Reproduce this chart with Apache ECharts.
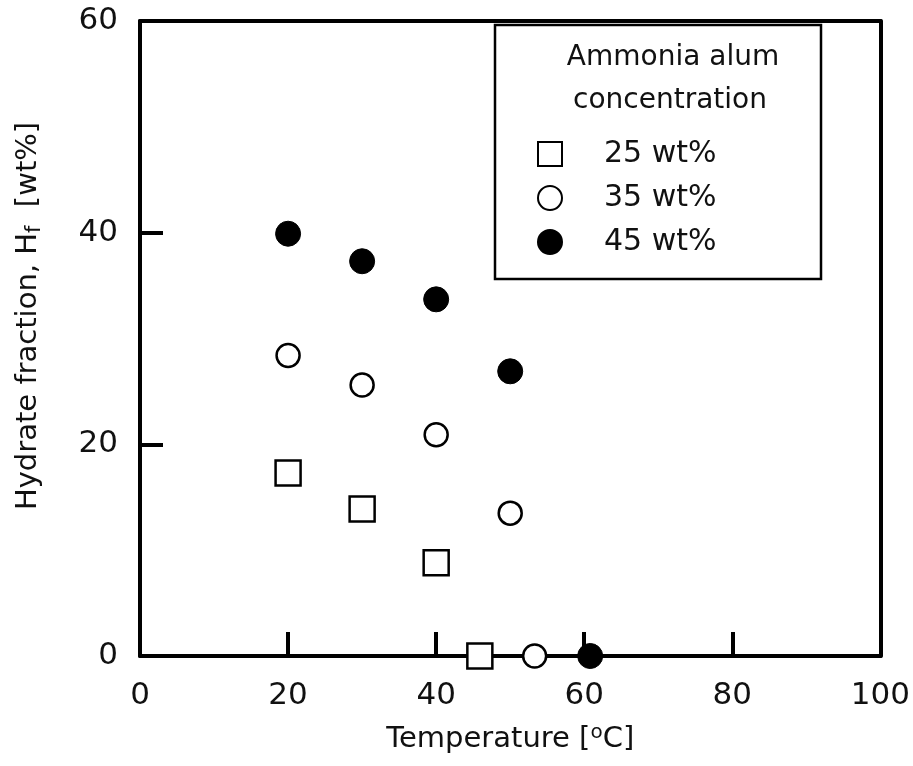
<!DOCTYPE html>
<html>
<head>
<meta charset="utf-8">
<script src="https://cdn.jsdelivr.net/npm/echarts@6/dist/echarts.min.js"></script>
<style>
html,body{margin:0;padding:0;background:#fff;}
#chart{width:913px;height:766px;}
</style>
</head>
<body>
<div id="chart"></div>
<script>
// Data
const seriesNames = ['25 wt%', '35 wt%', '45 wt%'];
const temp25 = [20, 30, 40, 45.9];
const frac25 = [17.3, 13.9, 8.8, 0];
const temp35 = [20, 30, 40, 50, 53.3];
const frac35 = [28.4, 25.6, 20.9, 13.5, 0];
const temp45 = [20, 30, 40, 50, 60.8];
const frac45 = [39.9, 37.3, 33.7, 26.9, 0];
const xTicks = [0, 20, 40, 60, 80, 100];
const yTicks = [0, 20, 40, 60];

const FONT = 'DejaVu Sans';
const TXT = '#111';
const pairs = (xs, ys) => xs.map((x, i) => [x, ys[i]]);

const chart = echarts.init(document.getElementById('chart'), null, {renderer: 'canvas'});

const axisLineStyle = {color: '#000', width: 4};
const option = {
  animation: false,
  backgroundColor: '#fff',
  grid: {left: 140, top: 21, width: 743, height: 635, show: false},
  xAxis: [{
    type: 'value', position: 'bottom', min: 0, max: 100, interval: 20,
    axisLine: {show: true, onZero: false, lineStyle: axisLineStyle},
    axisTick: {show: true, inside: true, length: 24, lineStyle: {color: '#000', width: 4}},
    axisLabel: {show: true, margin: 24, fontFamily: FONT, fontSize: 31, color: TXT,
      formatter: v => xTicks.includes(v) ? String(v) : ''},
    splitLine: {show: false},
    name: 'Temperature [{sup|o}C]',
    nameLocation: 'middle', nameGap: 67,
    nameTextStyle: {fontFamily: FONT, fontSize: 29, color: TXT,
      rich: {sup: {fontFamily: FONT, fontSize: 20, color: TXT, padding: [0, 0, 12, 0]}}}
  }, {
    type: 'value', position: 'top', min: 0, max: 100, interval: 20,
    axisLine: {show: true, onZero: false, lineStyle: axisLineStyle},
    axisTick: {show: false}, axisLabel: {show: false}, splitLine: {show: false}
  }],
  yAxis: [{
    type: 'value', position: 'left', min: 0, max: 60, interval: 20,
    axisLine: {show: true, onZero: false, lineStyle: axisLineStyle},
    axisTick: {show: true, inside: true, length: 23, lineStyle: {color: '#000', width: 4}},
    axisLabel: {show: true, margin: 22, fontFamily: FONT, fontSize: 31, color: TXT,
      formatter: v => yTicks.includes(v) ? String(v) : ''},
    splitLine: {show: false}
  }, {
    type: 'value', position: 'right', min: 0, max: 60, interval: 20,
    axisLine: {show: true, onZero: false, lineStyle: axisLineStyle},
    axisTick: {show: false}, axisLabel: {show: false}, splitLine: {show: false}
  }],
  legend: {
    data: seriesNames,
    orient: 'vertical',
    left: 537, top: 139,
    itemWidth: 24, itemHeight: 24, itemGap: 14,
    padding: 0,
    textStyle: {fontFamily: FONT, fontSize: 30, color: TXT, padding: [0, 0, 0, 37]},
    selectedMode: false
  },
  graphic: [
    {type: 'rect', z: 3, shape: {x: 495, y: 25, width: 326, height: 254},
      style: {fill: '#fff', stroke: '#000', lineWidth: 2.5}},
    {type: 'text', z: 5, x: 673, y: 58,
      style: {text: 'Ammonia alum', font: '28px "DejaVu Sans"', fill: TXT, align: 'center', verticalAlign: 'middle'}},
    {type: 'text', z: 5, x: 670, y: 101,
      style: {text: 'concentration', font: '28px "DejaVu Sans"', fill: TXT, align: 'center', verticalAlign: 'middle'}},
    {type: 'text', z: 5, x: 28, y: 316, rotation: Math.PI / 2,
      style: {text: 'Hydrate fraction, H{sub|f}  [wt%]', fontFamily: FONT, fontSize: 29, fill: TXT,
        align: 'center', verticalAlign: 'middle',
        rich: {sub: {fontFamily: FONT, fontSize: 21, fill: TXT, padding: [14, 0, 0, 0]}}}}
  ],
  series: [
    {name: seriesNames[0], type: 'scatter', clip: false, z: 5,
      symbol: 'rect', symbolSize: 25,
      itemStyle: {color: '#fff', borderColor: '#000', borderWidth: 2.5, opacity: 1},
      data: pairs(temp25, frac25)},
    {name: seriesNames[1], type: 'scatter', clip: false, z: 5,
      symbol: 'circle', symbolSize: 23,
      itemStyle: {color: '#fff', borderColor: '#000', borderWidth: 2.5, opacity: 1},
      data: pairs(temp35, frac35)},
    {name: seriesNames[2], type: 'scatter', clip: false, z: 5,
      symbol: 'circle', symbolSize: 25,
      itemStyle: {color: '#000', borderColor: '#000', borderWidth: 1, opacity: 1},
      data: pairs(temp45, frac45)}
  ]
};
chart.setOption(option);
</script>
</body>
</html>
